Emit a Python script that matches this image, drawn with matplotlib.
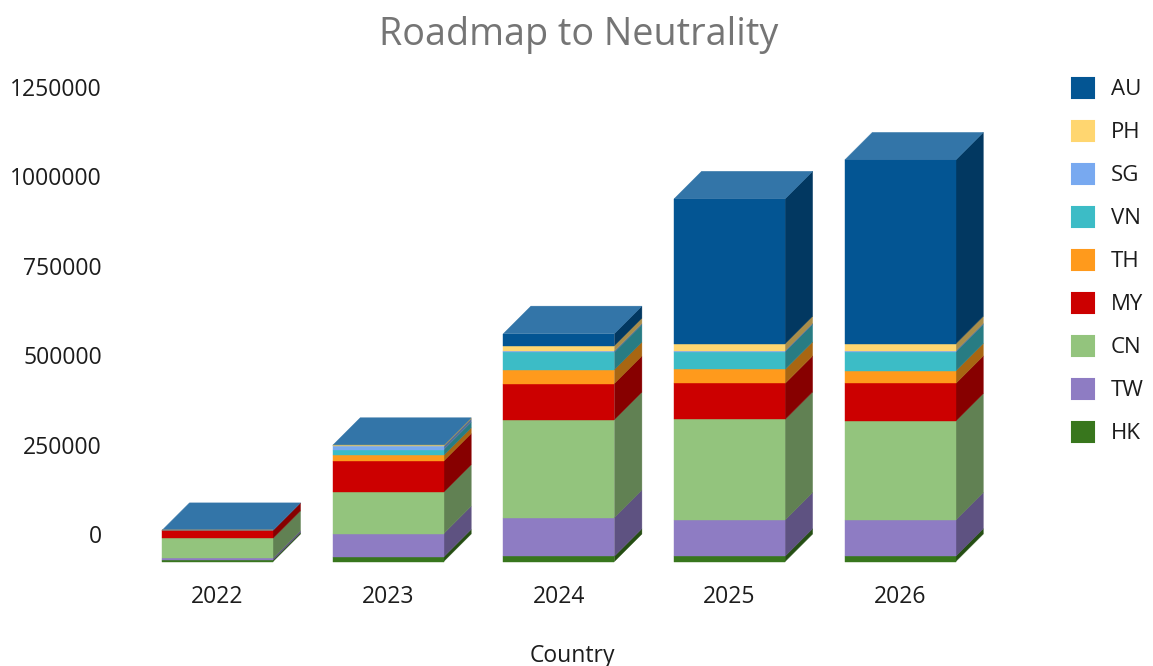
"""
Roadmap to Neutrality: stacked bars by year with a drawn-on 3D depth.
"""

import numpy as np
import matplotlib
matplotlib.use("Agg")
import matplotlib.pyplot as plt
import matplotlib.patches as mpatches
from matplotlib.colors import to_rgb

plt.rcParams["font.family"] = ["Open Sans", "DejaVu Sans"]

# ── Data ───────────────────────────────────────────────────────────────────────
years = ["2022", "2023", "2024", "2025", "2026"]
countries = ["HK", "TW", "CN", "MY", "TH", "VN", "SG", "PH", "AU"]

HK = [4000, 13000, 15000, 15000, 15000]
TW = [5000, 65000, 108000, 101000, 101000]
CN = [56000, 116000, 274000, 281500, 277000]
MY = [22000, 87000, 100700, 100700, 105000]
TH = [0, 16000, 39000, 39000, 35000]
VN = [0, 16000, 49000, 49000, 53000]
SG = [0, 9000, 3000, 3000, 3000]
PH = [0, 3000, 15000, 20000, 20000]
AU = [0, 0, 33500, 405000, 514000]
series = [HK, TW, CN, MY, TH, VN, SG, PH, AU]

colors = ["#38761d", "#8e7cc3", "#93c47d", "#cc0000", "#ff9a1c",
          "#3cbcc6", "#78a9f0", "#ffd670", "#035593"]
y_ticks = [0, 250000, 500000, 750000, 1000000, 1250000]

# ── Layout (pixels in the 1153x666 image) ─────────────────────────────────────
W, H = 1153, 666
PX_LEFT, PX_RIGHT, PX_TOP, PX_BOTTOM = 106, 1038, 60, 578
PX_BASE = 561.5          # front edge of the bars
PX_PER_UNIT = 89.4 / 250000
PX_PER_CAT = 170.7
PX_FIRST = 217.5
DEPTH_X = 27.5 / PX_PER_CAT
DEPTH_Y = 27.5 / PX_PER_UNIT
BAR_W = 111 / PX_PER_CAT
TEXT_COLOR = "#1c1c1c"


def shade(color, factor):
    return tuple(c * factor for c in to_rgb(color))


def tint(color, amount):
    return tuple(c + (1 - c) * amount for c in to_rgb(color))


fig = plt.figure(figsize=(W / 100, H / 100), dpi=100)
ax = fig.add_axes([PX_LEFT / W, 1 - PX_BOTTOM / H,
                   (PX_RIGHT - PX_LEFT) / W, (PX_BOTTOM - PX_TOP) / H])
ax.set_xlim((PX_LEFT - PX_FIRST) / PX_PER_CAT, (PX_RIGHT - PX_FIRST) / PX_PER_CAT)
ax.set_ylim((PX_BASE - PX_BOTTOM) / PX_PER_UNIT, (PX_BASE - PX_TOP) / PX_PER_UNIT)

# ── Bars ───────────────────────────────────────────────────────────────────────
x = np.arange(len(years))
bottom = np.zeros(len(years))
for values, color, name in zip(series, colors, countries):
    values = np.array(values, dtype=float)
    ax.bar(x, values, BAR_W, bottom=bottom, color=color, edgecolor=color,
           linewidth=0.3, label=name, zorder=3)
    # right hand side wall of each segment
    for xi, b, v in zip(x, bottom, values):
        if v <= 0:
            continue
        xr = xi + BAR_W / 2
        ax.fill([xr, xr + DEPTH_X, xr + DEPTH_X, xr],
                [b, b + DEPTH_Y, b + v + DEPTH_Y, b + v],
                color=shade(color, 0.66), linewidth=0.3, zorder=2)
    bottom += values

# lid, always in the colour of the last series
for xi, total in zip(x, bottom):
    xl, xr = xi - BAR_W / 2, xi + BAR_W / 2
    ax.fill([xl, xr, xr + DEPTH_X, xl + DEPTH_X],
            [total, total, total + DEPTH_Y, total + DEPTH_Y],
            color=tint(colors[-1], 0.19), linewidth=0.3, zorder=2)

# ── Axes ───────────────────────────────────────────────────────────────────────
for spine in ax.spines.values():
    spine.set_visible(False)
ax.set_xticks(x, years)
# value labels line up with the back wall, not the front face
ax.set_yticks([t + DEPTH_Y for t in y_ticks], [str(t) for t in y_ticks])
ax.tick_params(axis="both", length=0, labelsize=16.5, labelcolor=TEXT_COLOR)
ax.tick_params(axis="x", pad=5)
ax.tick_params(axis="y", pad=3)
ax.set_xlabel("Country", fontsize=16.5, color=TEXT_COLOR, labelpad=25)

fig.suptitle("Roadmap to Neutrality", x=579 / W, y=1 - 35 / H, va="center",
             fontsize=27.2, color="#757575")

# ── Legend ─────────────────────────────────────────────────────────────────────
handles = [mpatches.Patch(facecolor=c, edgecolor=c, linewidth=1.5,
                          joinstyle="round", label=n)
           for c, n in zip(colors[::-1], countries[::-1])]
fig.legend(handles=handles, loc="upper left", frameon=False,
           bbox_to_anchor=(1063 / W, 1 - 69 / H), fontsize=16,
           handlelength=1.0, handleheight=1.0, handletextpad=0.76,
           labelspacing=0.92, labelcolor=TEXT_COLOR, borderpad=0.4, borderaxespad=0)

fig.savefig("out.png", dpi=100)
